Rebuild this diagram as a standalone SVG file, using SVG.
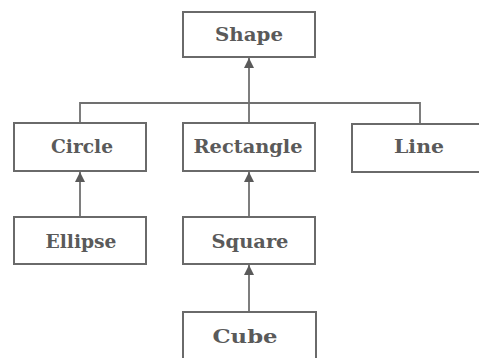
<svg xmlns="http://www.w3.org/2000/svg" width="479" height="358" viewBox="0 0 479 358">
<defs>
<marker id="ah" markerUnits="userSpaceOnUse" markerWidth="10" markerHeight="12" refX="10" refY="5" orient="auto">
<path d="M0,0 L10,5 L0,10 Z" fill="#5a5a5a"/>
</marker>
<style>
.box{fill:#fff;stroke:#6a6a6a;stroke-width:2}
.lbl{font-family:"DejaVu Serif","Liberation Serif",serif;font-size:19px;font-weight:bold;fill:#5a5a5a;text-anchor:middle}
.con{fill:none;stroke:#707070;stroke-width:1.8}
</style>
</defs>
<rect width="479" height="358" fill="#fff"/>
<g id="connectors">
<path class="con" d="M80,123 V103 H420 V124"/>
<path class="con" d="M249,123 V58" marker-end="url(#ah)"/>
<path class="con" d="M80,217 V172" marker-end="url(#ah)"/>
<path class="con" d="M249,217 V172" marker-end="url(#ah)"/>
<path class="con" d="M249,312 V265" marker-end="url(#ah)"/>
</g>
<g id="shape"><rect class="box" x="183" y="12" width="132" height="45"/><text class="lbl" x="249" y="41" textLength="68" lengthAdjust="spacingAndGlyphs">Shape</text></g>
<g id="circle"><rect class="box" x="14" y="123" width="132" height="48"/><text class="lbl" x="82" y="153" textLength="62" lengthAdjust="spacingAndGlyphs">Circle</text></g>
<g id="rectangle"><rect class="box" x="183" y="123" width="132" height="48"/><text class="lbl" x="248" y="153" textLength="109" lengthAdjust="spacingAndGlyphs">Rectangle</text></g>
<g id="line"><rect class="box" x="352" y="124" width="136" height="48"/><text class="lbl" x="419" y="153" textLength="50" lengthAdjust="spacingAndGlyphs">Line</text></g>
<g id="ellipse"><rect class="box" x="14" y="217" width="132" height="47"/><text class="lbl" x="81" y="248" textLength="71" lengthAdjust="spacingAndGlyphs">Ellipse</text></g>
<g id="square"><rect class="box" x="183" y="217" width="132" height="47"/><text class="lbl" x="250" y="248" textLength="77" lengthAdjust="spacingAndGlyphs">Square</text></g>
<g id="cube"><rect class="box" x="183" y="312" width="133" height="52"/><text class="lbl" x="245" y="343" textLength="65" lengthAdjust="spacingAndGlyphs">Cube</text></g>
</svg>
